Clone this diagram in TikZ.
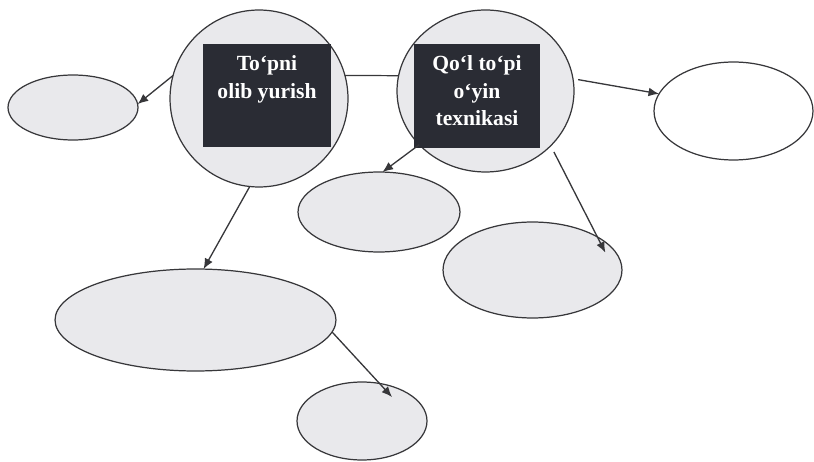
\documentclass[tikz,border=0pt]{standalone}
\usepackage{fontspec}
\setmainfont{Liberation Serif}
\usepackage{xcolor}
\usetikzlibrary{arrows.meta, positioning, shapes.geometric}

\definecolor{bubblefill}{RGB}{233,233,236}
\definecolor{topicfill}{RGB}{42,44,52}
\definecolor{edge}{RGB}{55,55,58}

\begin{document}
\begin{tikzpicture}[x=0.02cm, y=-0.02cm, >={Latex[length=6pt, width=5pt]}, line width=0.7pt,
    bubble/.style={draw=edge, fill=bubblefill, ellipse, inner sep=0pt, outer sep=0pt},
    topic/.style={fill=topicfill, inner sep=0pt, outer sep=0pt},
    topictext/.style={text=white, font=\bfseries\fontsize{12.3}{15.6}\selectfont, align=center, inner sep=0pt},
    link/.style={->, draw=edge, line width=0.75pt}]
    \useasboundingbox (0,0) rectangle (814,462);

    % Nodes
    \node[bubble, minimum width=3.56cm, minimum height=3.54cm] (c1) at (259,98.5) {};
    \node[bubble, minimum width=3.54cm, minimum height=3.24cm] (c2) at (485.5,91) {};
    \node[topic, minimum width=2.56cm, minimum height=2.06cm] (box1) at (267,95.5) {};
    \node[topic, minimum width=2.52cm, minimum height=2.08cm] (box2) at (477,96) {};
    \node[topictext, below=0.22cm of box1.north] (t1) {To`pni\\olib yurish};
    \node[topictext, below=0.22cm of box2.north] (t2) {Qo`l to`pi\\o`yin\\texnikasi};

    \node[bubble, minimum width=2.6cm, minimum height=1.3cm] (left) at (73,107.5) {};
    \node[bubble, fill=white, minimum width=3.18cm, minimum height=1.96cm] (right) at (733.5,111) {};
    \node[bubble, minimum width=3.24cm, minimum height=1.6cm] (mid) at (379,212) {};
    \node[bubble, minimum width=3.58cm, minimum height=1.92cm] (lowright) at (532.5,270) {};
    \node[bubble, minimum width=5.62cm, minimum height=2.04cm] (big) at (195.5,320) {};
    \node[bubble, minimum width=2.6cm, minimum height=1.56cm] (bottom) at (362,421) {};

    % Arrows
    \draw[draw=edge] (c1.15) -- (c2.170);
    \draw[link] (c1.165) -- (left.3);
    \draw[link] (c1.264) -- (big.81);
    \draw[link, shorten <=3pt] (c2.8) -- (right.167);
    \draw[link] (c2.219) -- (mid.85);
    \draw[link, shorten <=4pt, shorten >=-0.35cm] (c2.-40) -- (lowright.27);
    \draw[link, shorten >=-0.37cm] (big.-5) -- (bottom.65);

\end{tikzpicture}
\end{document}
